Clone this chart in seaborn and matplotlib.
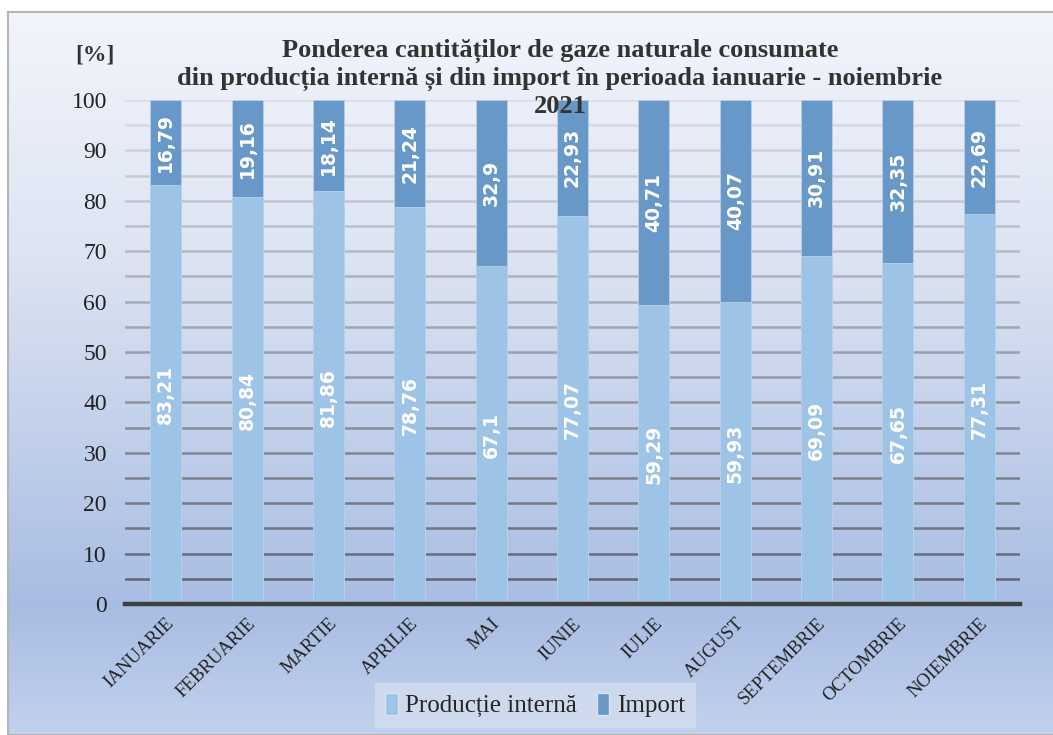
import numpy as np
import pandas as pd
import matplotlib
matplotlib.use("Agg")
import matplotlib.pyplot as plt
import seaborn as sns
from matplotlib.patches import Patch

# data
luni = ["IANUARIE", "FEBRUARIE", "MARTIE", "APRILIE", "MAI", "IUNIE",
        "IULIE", "AUGUST", "SEPTEMBRIE", "OCTOMBRIE", "NOIEMBRIE"]
productie = [83.21, 80.84, 81.86, 78.76, 67.1, 77.07, 59.29, 59.93, 69.09, 67.65, 77.31]
import_gaz = [16.79, 19.16, 18.14, 21.24, 32.9, 22.93, 40.71, 40.07, 30.91, 32.35, 22.69]

df = pd.DataFrame({"luna": luni, "prod": productie, "imp": import_gaz})
df["total"] = df["prod"] + df["imp"]

sns.set_theme(style="white")
plt.rcParams["font.family"] = ["Liberation Serif", "DejaVu Serif"]

c_prod = "#9dc3e6"
c_imp = "#6798c8"

fig = plt.figure(figsize=(10.53, 7.35), dpi=100)
fig.patch.set_facecolor("white")

# gradient background with a grey frame
bg = fig.add_axes([8 / 1053, 0, 1, 1 - 12 / 735], zorder=0)
stops = np.array([0.0, 0.35, 0.82, 1.0])
cols = np.array([[0.95, 0.96, 0.985], [0.86, 0.89, 0.95], [0.66, 0.74, 0.89], [0.76, 0.82, 0.93]])
t = np.linspace(0, 1, 300)
grad = np.stack([np.interp(t, stops, cols[:, k]) for k in range(3)], axis=1)
bg.imshow(grad[:, None, :], aspect="auto", extent=[0, 1, 0, 1])
bg.set_xticks([])
bg.set_yticks([])
for s in bg.spines.values():
    s.set_color("#b5b5b5")
    s.set_linewidth(1.5)

ax = fig.add_axes([125 / 1053, 1 - 604 / 735, 895 / 1053, 504 / 735], zorder=1)
ax.set_facecolor("none")

# gridlines, lighter at the top, darker at the bottom
for y in range(5, 101, 5):
    f = y / 100
    c = (0.36 + 0.5 * f, 0.38 + 0.49 * f, 0.44 + 0.46 * f)
    ax.axhline(y, color=c, lw=1.8, zorder=0)

sns.barplot(data=df, x="luna", y="total", color=c_imp, width=0.38, saturation=1,
            edgecolor="#b9d0ea", linewidth=0.6, ax=ax, zorder=2)
sns.barplot(data=df, x="luna", y="prod", color=c_prod, width=0.38, saturation=1,
            edgecolor="#b9d0ea", linewidth=0.6, ax=ax, zorder=3)

lbl = dict(rotation=90, ha="center", va="center", color="white", fontsize=13.5,
           fontweight="bold", family=["DejaVu Sans"], zorder=5)
for i, (p, m) in enumerate(zip(productie, import_gaz)):
    ax.text(i, p / 2, f"{p:g}".replace(".", ","), **lbl)
    ax.text(i, p + m / 2, f"{m:g}".replace(".", ","), **lbl)

ax.set_ylim(0, 100)
ax.set_xlim(-0.5, len(luni) - 0.5)
ax.set_yticks(range(0, 101, 10))
ax.tick_params(axis="y", labelsize=17, colors="#222222", length=0, pad=13)
ax.tick_params(axis="x", labelsize=13.5, colors="#222222", length=0, pad=8)
plt.setp(ax.get_xticklabels(), rotation=45, ha="right", rotation_mode="anchor")
ax.set_xlabel("")
ax.set_ylabel("")
for s in ["top", "right", "left"]:
    ax.spines[s].set_visible(False)
ax.spines["bottom"].set_color("#404040")
ax.spines["bottom"].set_linewidth(3.2)
ax.spines["bottom"].set_zorder(6)

fig.text(560 / 1053, 1 - 78 / 735,
         "Ponderea cantităților de gaze naturale consumate\n"
         "din producția internă și din import în perioada ianuarie - noiembrie\n2021",
         ha="center", va="center", fontsize=19, fontweight="bold", color="#333333",
         linespacing=1.22, zorder=10)
fig.text(95 / 1053, 1 - 55 / 735, "[%]", ha="center", va="center", fontsize=17,
         fontweight="bold", color="#333333", zorder=10)

handles = [Patch(facecolor=c_prod, edgecolor="#d6e4f3"), Patch(facecolor=c_imp, edgecolor="#d6e4f3")]
leg = fig.legend(handles, ["Producție internă", "Import"], loc="center",
                 bbox_to_anchor=(535 / 1053, 1 - 705 / 735), ncol=2, frameon=True,
                 fontsize=18, handlelength=0.5, handleheight=1.0, handletextpad=0.3,
                 columnspacing=0.8, borderpad=0.4, fancybox=False)
leg.get_frame().set_facecolor("#d3ddef")
leg.get_frame().set_edgecolor("#d3ddef")
leg.set_zorder(10)

fig.savefig("out.png", dpi=100)
